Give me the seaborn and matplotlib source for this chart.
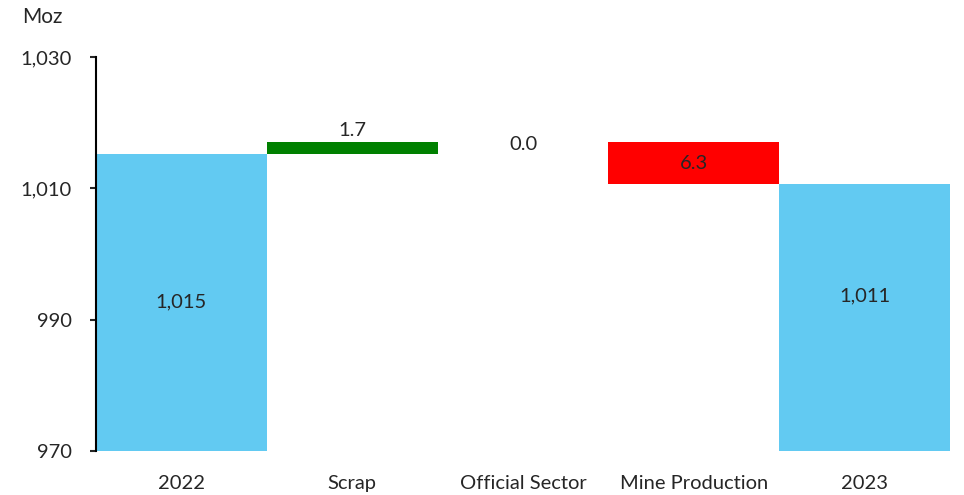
import numpy as np
import matplotlib
import seaborn as sns
import matplotlib.pyplot as plt

matplotlib.use('Agg')

categories = ['2022', 'Scrap', 'Official Sector', 'Mine Production', '2023']
changes = [1015.3, 1.7, 0.0, -6.3, 1010.7]
is_total = [True, False, False, False, True]
labels = ['1,015', '1.7', '0.0', '6.3', '1,011']
colors = ['#62CAF2', '#008000', '#FFFFFF', '#FF0000', '#62CAF2']
y_ticks = [970, 990, 1010, 1030]
y_tick_labels = ['970', '990', '1,010', '1,030']
base = 970

# waterfall: running level
bottoms, heights = [], []
level = 0.0
for v, tot in zip(changes, is_total):
    if tot:
        bottoms.append(base)
        heights.append(v - base)
        level = v
    else:
        start = level
        level = level + v
        bottoms.append(min(start, level))
        heights.append(abs(v))

sns.set_style('white')
plt.rcParams['font.family'] = ['Lato', 'DejaVu Sans']
FS = 14.5

fig = plt.figure(figsize=(9.64, 4.95), dpi=100)
ax = fig.add_axes([96 / 964, 44 / 495, 854 / 964, 394 / 495])

# one call per bar so each can float on its own bottom
for cat, b, h, c in zip(categories, bottoms, heights, colors):
    sns.barplot(x=[cat], y=[h], order=categories, bottom=b, color=c,
                width=1.0, saturation=1, linewidth=0, ax=ax)

# labels
for i, (b, h, t) in enumerate(zip(bottoms, heights, labels)):
    if i == 1:
        ax.text(i, b + h + 0.5, t, ha='center', va='bottom', fontsize=FS)
    elif i == 2:
        ax.text(i, b - 0.3, t, ha='center', va='center', fontsize=FS)
    elif i == 4:
        ax.text(i, b + h * 0.58, t, ha='center', va='center', fontsize=FS)
    else:
        ax.text(i, b + h / 2, t, ha='center', va='center', fontsize=FS)

ax.set_ylim(970, 1030)
ax.set_xlim(-0.5, 4.5)
ax.set_yticks(y_ticks)
ax.set_yticklabels(y_tick_labels)
ax.tick_params(axis='y', length=4.5, width=1.5, pad=13, labelsize=FS, left=True)
ax.tick_params(axis='x', length=0, pad=17, labelsize=FS)
for s in ['top', 'right', 'bottom']:
    ax.spines[s].set_visible(False)
ax.spines['left'].set_linewidth(1.5)
ax.spines['left'].set_color('black')

fig.text(22 / 964, 1 - 17 / 495, 'Moz', ha='left', va='center', fontsize=FS + 0.5)

fig.savefig('out.png', dpi=100)
